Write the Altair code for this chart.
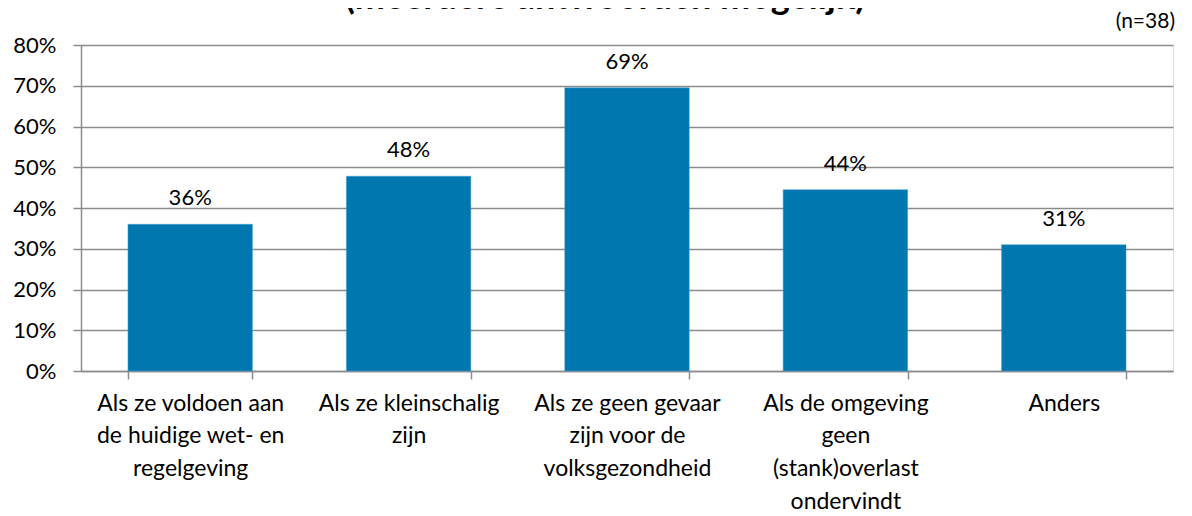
import altair as alt
import pandas as pd

categories = [
    "Als ze voldoen aan|de huidige wet- en|regelgeving",
    "Als ze kleinschalig|zijn",
    "Als ze geen gevaar|zijn voor de|volksgezondheid",
    "Als de omgeving|geen|(stank)overlast|ondervindt",
    "Anders",
]
values = [0.36, 0.478, 0.695, 0.445, 0.31]
value_labels = ["36%", "48%", "69%", "44%", "31%"]
y_ticks = [0, 0.1, 0.2, 0.3, 0.4, 0.5, 0.6, 0.7, 0.8]
title_text = "(meerdere antwoorden mogelijk)"
n_text = "(n=38)"

df = pd.DataFrame({"cat": categories, "val": values, "lab": value_labels})

FONT = "Lato"
GRID = "#8c8c8c"

x_enc = alt.X(
    "cat:N",
    sort=categories,
    scale=alt.Scale(paddingInner=0.43, paddingOuter=0.215),
    axis=alt.Axis(
        title=None,
        labelAngle=0,
        labelExpr="split(datum.label, '|')",
        labelFont=FONT,
        labelFontSize=23,
        labelLineHeight=32.7,
        labelColor="#000000",
        labelPadding=13,
        labelBaseline="top",
        tickBand="extent",
        tickSize=8,
        tickColor=GRID,
        tickWidth=1.5,
        domainColor=GRID,
        domainWidth=1.5,
        labelLimit=300,
    ),
)
y_enc = alt.Y(
    "val:Q",
    scale=alt.Scale(domain=[0, 0.8], nice=False, zero=True),
    axis=alt.Axis(
        title=None,
        values=y_ticks,
        format=".0%",
        labelFont=FONT,
        labelFontSize=22,
        labelColor="#000000",
        labelPadding=17,
        tickSize=8,
        tickColor=GRID,
        tickWidth=1.5,
        domainColor=GRID,
        domainWidth=1.5,
        gridColor=GRID,
        gridWidth=1.5,
        grid=True,
    ),
)

base = alt.Chart(df)
bars = base.mark_bar(color="#0077AE", stroke="#4aa3d0", strokeWidth=0.5).encode(x=x_enc, y=y_enc)
labels = base.mark_text(font=FONT, fontSize=22, color="#000000", baseline="alphabetic", dy=-19).encode(
    x=alt.X("cat:N", sort=categories), y=alt.Y("val:Q"), text="lab:N"
)

tdf = pd.DataFrame({"t": [title_text]})
title = alt.Chart(tdf).mark_text(
    font=FONT, fontSize=36, fontWeight="bold", color="#000000", baseline="alphabetic", align="center"
).encode(x=alt.value(524), y=alt.value(-36), text="t:N")

ndf = pd.DataFrame({"t": [n_text]})
ntext = alt.Chart(ndf).mark_text(
    font=FONT, fontSize=21, color="#000000", baseline="middle", align="right"
).encode(x=alt.value(1094), y=alt.value(-23), text="t:N")

chart = (
    alt.layer(bars, labels, title, ntext)
    .properties(
        width=1092,
        height=326,
        autosize=alt.AutoSizeParams(type="none"),
        padding={"left": 73, "top": 37, "right": 11, "bottom": 150},
    )
    .configure_view(stroke=None)
    .configure(background="white")
)

chart.save("out.html", embed_options={"renderer": "svg", "actions": False})
